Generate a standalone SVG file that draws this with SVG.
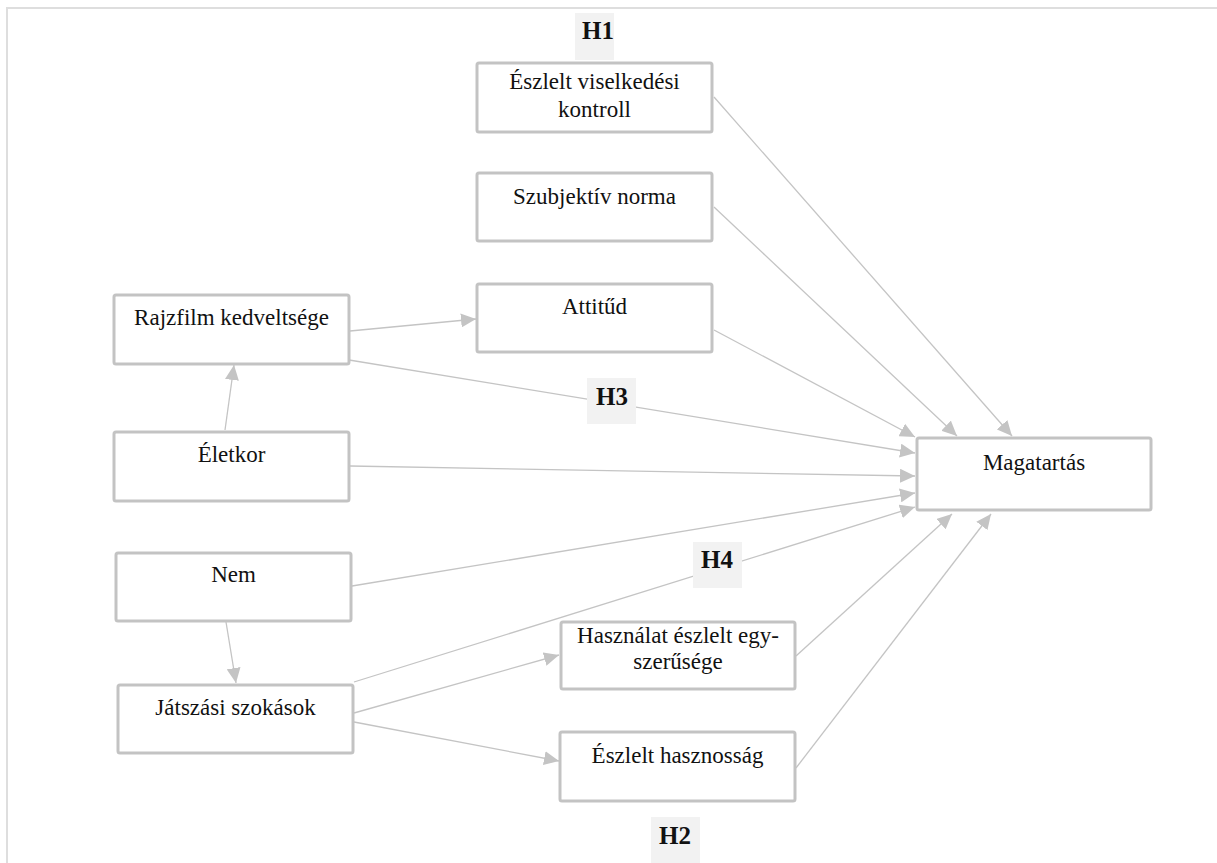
<svg xmlns="http://www.w3.org/2000/svg" width="1217" height="863" viewBox="0 0 1217 863">
<style>
.box{fill:#fff;stroke:#c3c3c3;stroke-width:3}
.t{font-family:"Liberation Serif",serif;font-size:23px;fill:#111;text-anchor:middle}
.h{font-family:"Liberation Serif",serif;font-size:25px;font-weight:bold;fill:#111;text-anchor:middle}
.hb{fill:#f2f2f2}
.c{stroke:#c4c4c4;stroke-width:1.3;fill:none;marker-end:url(#ah)}
</style>
<defs>
<marker id="ah" markerUnits="userSpaceOnUse" markerWidth="16" markerHeight="14" refX="15" refY="7" orient="auto">
<path d="M0,0 L15,7 L0,14 Z" fill="#c4c4c4"/>
</marker>
</defs>
<rect width="1217" height="863" fill="#fff"/>
<path d="M7,863 V8 H1217" fill="none" stroke="#dedede" stroke-width="2"/>
<g id="connectors">
<line class="c" x1="714" y1="97" x2="1012" y2="436"/>
<line class="c" x1="714" y1="207" x2="957" y2="436"/>
<line class="c" x1="714" y1="330" x2="915" y2="437"/>
<line class="c" x1="350" y1="331" x2="476" y2="319"/>
<line class="c" x1="343" y1="359" x2="915" y2="453"/>
<line class="c" x1="350" y1="466" x2="915" y2="476"/>
<line class="c" x1="352" y1="586" x2="915" y2="493"/>
<line class="c" x1="354" y1="682" x2="915" y2="507"/>
<line class="c" x1="796" y1="656" x2="952" y2="514"/>
<line class="c" x1="796" y1="768" x2="991" y2="514"/>
<line class="c" x1="226" y1="622" x2="236" y2="683"/>
<line class="c" x1="225" y1="430" x2="234" y2="365"/>
<line class="c" x1="354" y1="713" x2="559" y2="655"/>
<line class="c" x1="354" y1="722" x2="559" y2="761"/>
</g>
<g id="h1"><rect class="hb" x="575" y="13" width="39" height="47"/><text class="h" x="598" y="39">H1</text></g>
<g id="h3"><rect class="hb" x="587" y="378" width="49" height="46"/><text class="h" x="612" y="405">H3</text></g>
<g id="h4"><rect class="hb" x="693" y="542" width="49" height="46"/><text class="h" x="717" y="568">H4</text></g>
<g id="h2"><rect class="hb" x="651" y="817" width="49" height="46"/><text class="h" x="675" y="844">H2</text></g>
<g id="n-evk"><rect class="box" x="477" y="63" width="235" height="69" rx="2"/><text class="t" x="594.5" y="89">Észlelt viselkedési</text><text class="t" x="594.5" y="117">kontroll</text></g>
<g id="n-szn"><rect class="box" x="477" y="173" width="235" height="68" rx="2"/><text class="t" x="594.5" y="204">Szubjektív norma</text></g>
<g id="n-att"><rect class="box" x="477" y="284" width="235" height="68" rx="2"/><text class="t" x="594.5" y="314">Attitűd</text></g>
<g id="n-raj"><rect class="box" x="114" y="295" width="235" height="69" rx="2"/><text class="t" x="231.5" y="325">Rajzfilm kedveltsége</text></g>
<g id="n-ele"><rect class="box" x="114" y="432" width="235" height="69" rx="2"/><text class="t" x="231.5" y="462">Életkor</text></g>
<g id="n-nem"><rect class="box" x="116" y="553" width="235" height="68" rx="2"/><text class="t" x="233.5" y="582">Nem</text></g>
<g id="n-jat"><rect class="box" x="118" y="685" width="235" height="68" rx="2"/><text class="t" x="235.5" y="715">Játszási szokások</text></g>
<g id="n-mag"><rect class="box" x="917" y="438" width="234" height="72" rx="2"/><text class="t" x="1034" y="470">Magatartás</text></g>
<g id="n-has"><rect class="box" x="561" y="622" width="234" height="67" rx="2"/><text class="t" x="678" y="643">Használat észlelt egy-</text><text class="t" x="678" y="669">szerűsége</text></g>
<g id="n-ehs"><rect class="box" x="560" y="732" width="235" height="69" rx="2"/><text class="t" x="677.5" y="763">Észlelt hasznosság</text></g>
</svg>
